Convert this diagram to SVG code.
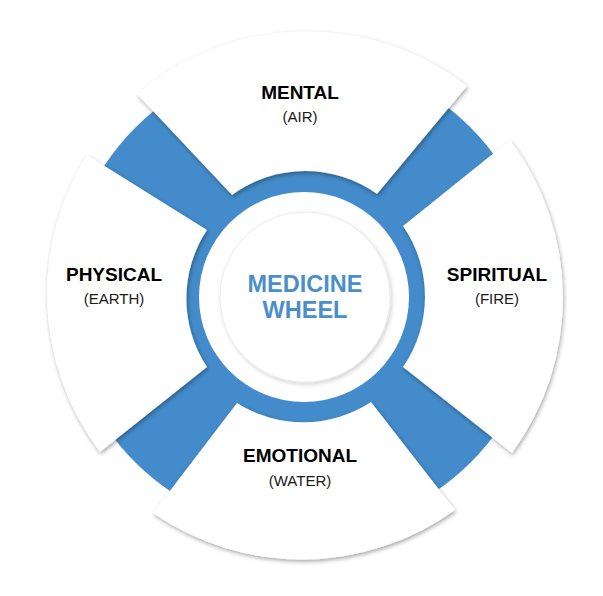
<svg xmlns="http://www.w3.org/2000/svg" width="603" height="596" viewBox="0 0 603 596">
  <defs>
    <filter id="segShadow" x="-20%" y="-20%" width="140%" height="140%">
      <feDropShadow dx="1" dy="2" stdDeviation="2.2" flood-color="#000" flood-opacity="0.35"/>
    </filter>
    <filter id="hubShadow" x="-20%" y="-20%" width="140%" height="140%">
      <feDropShadow dx="1.5" dy="2" stdDeviation="2" flood-color="#000" flood-opacity="0.18"/>
    </filter>
  </defs>
  <style>
    .seg { fill: #ffffff; filter: url(#segShadow); }
    .title { font-family: "Liberation Sans", Arial, sans-serif; font-weight: bold; font-size: 19px; fill: #000000; text-anchor: middle; }
    .sub { font-family: "Liberation Sans", Arial, sans-serif; font-size: 15px; fill: #1a1a1a; text-anchor: middle; }
    .hubtext { font-family: "Liberation Sans", Arial, sans-serif; font-weight: bold; font-size: 23.5px; fill: #4a8fcc; text-anchor: middle; }
  </style>
  <rect width="603" height="596" fill="#ffffff"/>
  <circle id="blue-disc" cx="303" cy="295" r="237" fill="#438bca"/>
  <g id="connectors"></g>
  <g id="seg-mental">
    <path class="seg" d="M137,94 A262,262 0 0 1 467,86 L377,194 A124,124 0 0 0 232,195 Z"/>
    <text class="title" x="300" y="99">MENTAL</text>
    <text class="sub" x="300" y="122">(AIR)</text>
  </g>
  <g id="seg-spiritual">
    <path class="seg" d="M510,140 A262,262 0 0 1 512,453 L403,367 A124,124 0 0 0 403,226 Z"/>
    <text class="title" x="497" y="281">SPIRITUAL</text>
    <text class="sub" x="497" y="304">(FIRE)</text>
  </g>
  <g id="seg-emotional">
    <path class="seg" d="M455,510 A262,262 0 0 1 153,513 L237,403 A124,124 0 0 0 371,402 Z"/>
    <text class="title" x="300" y="462">EMOTIONAL</text>
    <text class="sub" x="300" y="486">(WATER)</text>
  </g>
  <g id="seg-physical">
    <path class="seg" d="M100,452 A262,262 0 0 1 87,155 L207,230 A124,124 0 0 0 207,367 Z"/>
    <text class="title" x="114" y="281">PHYSICAL</text>
    <text class="sub" x="114" y="304">(EARTH)</text>
  </g>
  <g id="hub">
    <circle cx="304" cy="297" r="105" fill="#ffffff"/>
    <circle cx="305" cy="297" r="85" fill="#ffffff" stroke="#ececec" stroke-width="1" filter="url(#hubShadow)"/>
    <text class="hubtext" x="305" y="292">MEDICINE</text>
    <text class="hubtext" x="305" y="318">WHEEL</text>
  </g>
</svg>
